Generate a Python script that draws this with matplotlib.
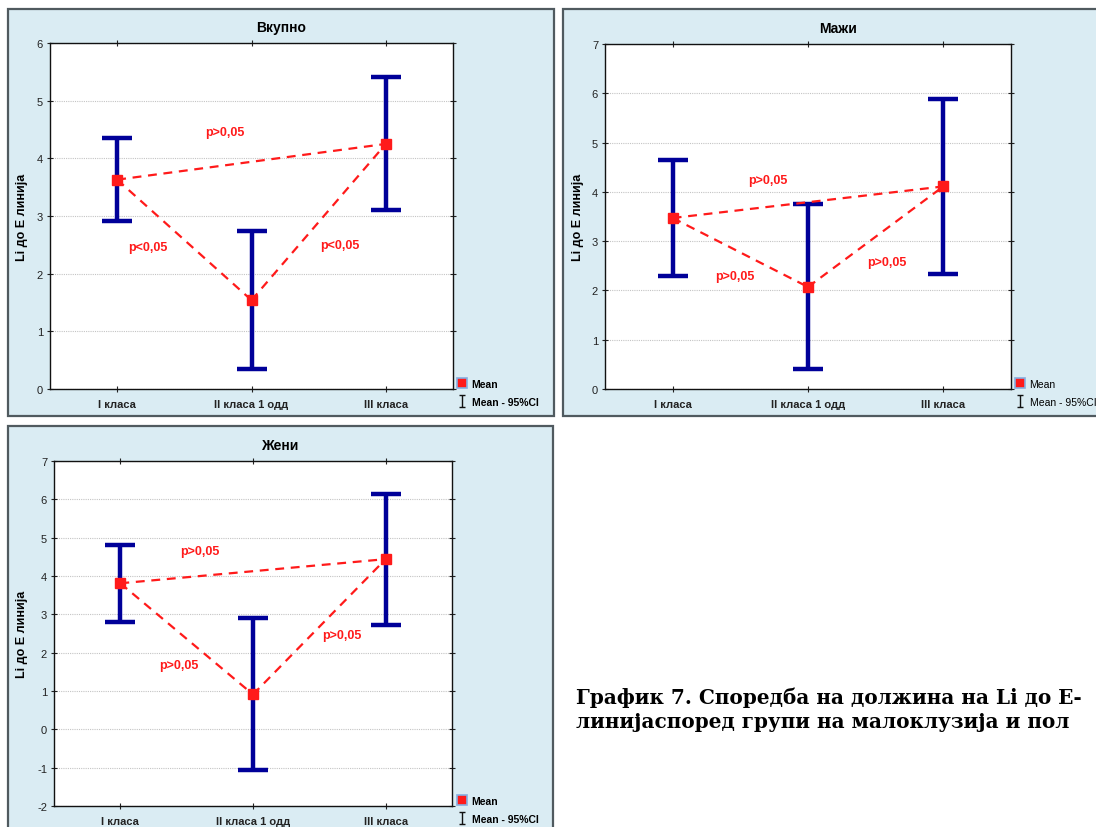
import matplotlib.pyplot as plt
from matplotlib.lines import Line2D
from matplotlib.patches import Rectangle
from matplotlib.path import Path
import numpy as np

groups = ["I класа", "II класа 1 одд", "III класа"]

total_mean = [3.63, 1.54, 4.25]
total_low = [2.91, 0.34, 3.11]
total_high = [4.36, 2.74, 5.41]
total_p = ["p>0,05", "p<0,05", "p<0,05"]

male_mean = [3.47, 2.07, 4.11]
male_low = [2.29, 0.41, 2.33]
male_high = [4.65, 3.75, 5.88]
male_p = ["p>0,05", "p>0,05", "p>0,05"]

female_mean = [3.81, 0.91, 4.44]
female_low = [2.81, -1.07, 2.72]
female_high = [4.80, 2.90, 6.14]
female_p = ["p>0,05", "p>0,05", "p>0,05"]

caption = ["График 7. Споредба на должина на Li до Е-",
           "линијаспоред групи на малоклузија и пол"]

W, H = 1096, 828
BG = "#daecf3"
NAVY = "#000099"
RED = "#ff1a1a"
SANS = "Liberation Sans"

plt.rcParams["axes.unicode_minus"] = False

# I-beam symbol used for the confidence interval legend entry
I_BEAM = Path([(-0.5, 1), (0.5, 1), (0, 1), (0, -1), (-0.5, -1), (0.5, -1)],
              [Path.MOVETO, Path.LINETO, Path.MOVETO, Path.LINETO,
               Path.MOVETO, Path.LINETO])

fig = plt.figure(figsize=(W / 100, H / 100), dpi=100)


def frame(l, t, r, b):
    fig.patches.append(Rectangle((l / W, 1 - b / H), (r - l) / W, (b - t) / H,
                                 transform=fig.transFigure, facecolor=BG,
                                 edgecolor="#505a5f", lw=1.6, zorder=-10))


def panel(box, title, title_x, ylab_x, mean, low, high, pvals, ppos,
          ylim, legend_xy, legend_bold):
    l, t, r, b = box
    ax = fig.add_axes([l / W, 1 - b / H, (r - l) / W, (b - t) / H])
    x = np.arange(len(groups))
    mean = np.array(mean)
    err = [mean - np.array(low), np.array(high) - mean]

    ax.errorbar(x, mean, yerr=err, fmt="none", ecolor=NAVY, elinewidth=3.2,
                capsize=10.5, capthick=3.2, zorder=3)
    # dashed comparisons between each pair of means
    for i, j in [(0, 2), (0, 1), (1, 2)]:
        ax.plot([x[i], x[j]], [mean[i], mean[j]], ls=(0, (4, 3)), lw=1.6,
                color=RED, zorder=4)
    ax.plot(x, mean, "s", ms=6.5, color=RED, zorder=5)
    for text, (px, py) in zip(pvals, ppos):
        ax.text(px, py, text, color=RED, fontsize=9, fontweight="bold",
                family=SANS, ha="center", va="center", zorder=6)

    ax.set_xlim(-0.5, 2.5)
    ax.set_ylim(*ylim)
    ax.set_yticks(np.arange(ylim[0], ylim[1] + 1))
    ax.set_xticks(x)
    ax.set_xticklabels(groups, fontsize=8, fontweight="bold", family=SANS)
    for lab in ax.get_yticklabels():
        lab.set_fontsize(8)
        lab.set_family(SANS)
    ax.tick_params(direction="inout", length=4, width=0.8, top=True,
                   right=True, pad=3, colors="#222222")
    ax.tick_params(axis="x", pad=5)
    ax.grid(axis="y", color="#c4c4c4", lw=0.8, ls=(0, (1, 1)))
    ax.set_axisbelow(True)
    for s in ax.spines.values():
        s.set_linewidth(1.0)
        s.set_color("#111111")

    fig.text(title_x / W, 1 - (t - 16) / H, title, ha="center", va="center",
             fontsize=10, fontweight="bold", family=SANS)
    fig.text(ylab_x / W, 1 - (t + b) / 2 / H, "Li до Е линија", rotation=90,
             ha="center", va="center", fontsize=9, fontweight="bold",
             family=SANS)

    weight = "bold" if legend_bold else "normal"
    handles = [
        Line2D([], [], ls="none", marker="s", ms=7, mfc=RED, mec="#86aee0",
               mew=1.2),
        Line2D([], [], ls="none", marker=I_BEAM, ms=9, mew=1.0,
               color="#111111"),
    ]
    lx, ly = legend_xy
    fig.legend(handles, ["Mean", "Mean - 95%CI"], loc="upper left",
               bbox_to_anchor=(lx / W, 1 - ly / H), frameon=False,
               handlelength=0.6, handletextpad=0.6, labelspacing=0.75,
               borderpad=0, borderaxespad=0,
               prop={"family": SANS, "size": 7.5, "weight": weight})
    return ax


frame(8, 10, 554, 417)
frame(563, 10, 1113, 417)
frame(8, 427, 553, 840)

panel((50, 44, 453, 390), "Вкупно", 281, 22,
      total_mean, total_low, total_high, total_p,
      [(0.80, 4.46), (0.23, 2.46), (1.66, 2.49)],
      (0, 6), (459, 380), True)

panel((605, 45, 1011, 390), "Мажи", 838, 578,
      male_mean, male_low, male_high, male_p,
      [(0.70, 4.24), (0.46, 2.30), (1.58, 2.57)],
      (0, 7), (1017, 380), False)

panel((54, 462, 452, 807), "Жени", 281, 22,
      female_mean, female_low, female_high, female_p,
      [(0.60, 4.65), (0.44, 1.68), (1.67, 2.45)],
      (-2, 7), (459, 797), True)

for k, line in enumerate(caption):
    fig.text(576 / W, 1 - (698 + 24 * k) / H, line, ha="left", va="center",
             fontsize=14.4, fontweight="bold", family="DejaVu Serif")

fig.savefig("out.png", dpi=100)
